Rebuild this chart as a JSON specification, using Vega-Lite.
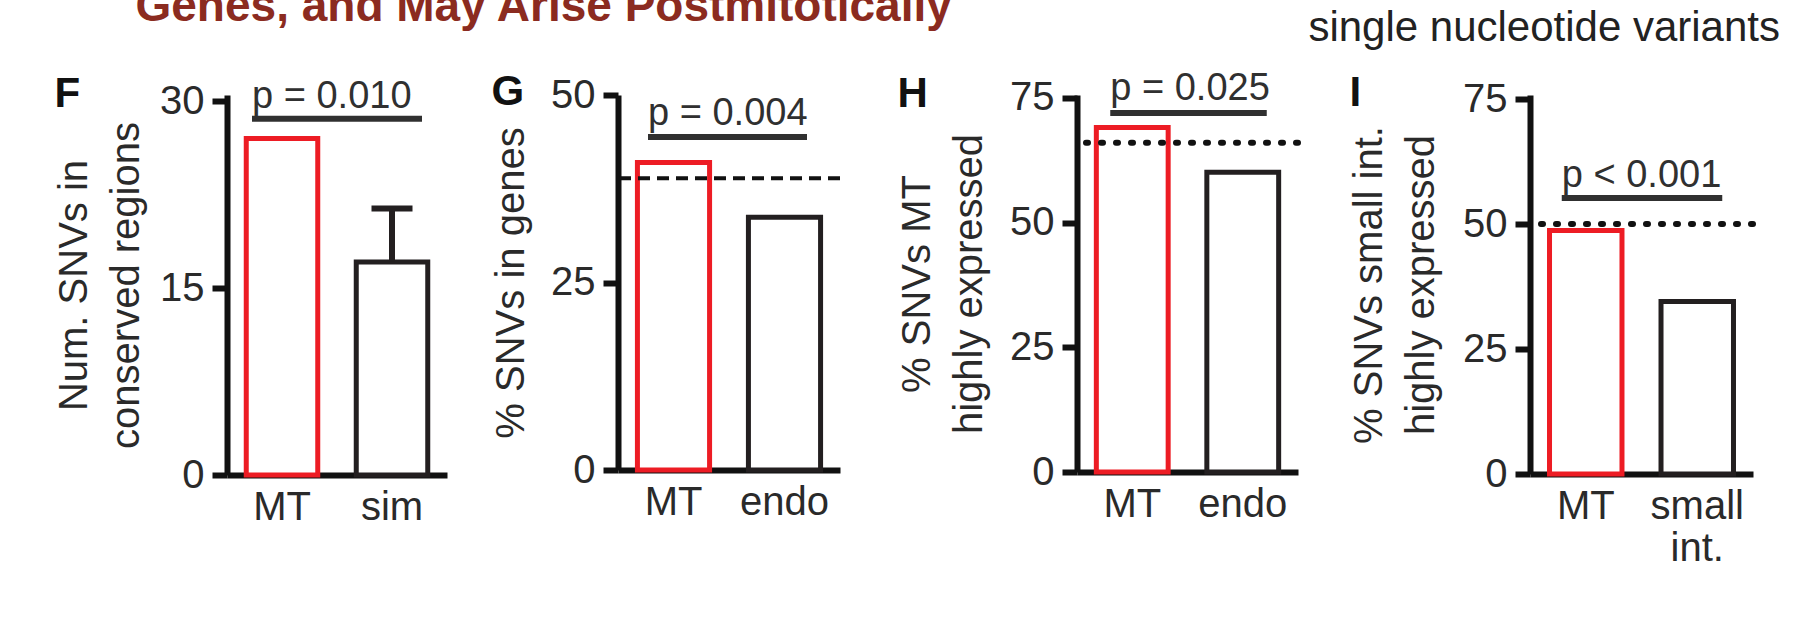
{
  "$schema": "https://vega.github.io/schema/vega-lite/v6.json",
  "autosize": {"type": "none"},
  "padding": {"left": 227, "top": 95, "right": 1576, "bottom": 527},
  "background": "white",
  "title": {"text": "Genes, and May Arise Postmitotically", "color": "#8B2B20", "fontSize": 46, "fontWeight": "bold", "anchor": "start", "dx": 81, "dy": 28},
  "config": {
    "font": "Liberation Sans",
    "view": {"stroke": null},
    "axis": {"grid": false, "domainColor": "#111111", "domainWidth": 6, "tickColor": "#111111", "tickWidth": 6, "labelFontSize": 40, "labelColor": "#2a2a2a", "titleFontSize": 40, "titleFontWeight": "normal", "titleColor": "#2a2a2a", "zindex": 1, "labelFont": "Liberation Sans", "titleFont": "Liberation Sans"},
    "axisX": {"ticks": false, "tickSize": 0, "labelAngle": 0, "labelPadding": 12, "labelLineHeight": 42},
    "axisY": {"tickSize": 15, "labelPadding": 8, "titleLineHeight": 52, "labelFlush": false, "labelOverlap": false},
    "title": {"font": "Liberation Sans", "fontSize": 42, "fontWeight": "bold", "color": "#111111", "anchor": "start", "frame": "bounds", "offset": 0, "baseline": "alphabetic"}
  },
  "datasets": {
    "barsF": [{"group": "MT", "kind": "MT", "value": 27}, {"group": "sim", "kind": "ctrl", "value": 17.1}],
    "errF": [{"group": "sim", "low": 17.1, "high": 21.4}],
    "pF": [{"a": "MT", "b": "sim", "y": 28.6, "label": "p = 0.010"}],
    "barsG": [{"group": "MT", "kind": "MT", "value": 41.0}, {"group": "endo", "kind": "ctrl", "value": 33.7}],
    "refG": [{"y": 38.9}],
    "pG": [{"a": "MT", "b": "endo", "y": 44.4, "label": "p = 0.004"}],
    "barsH": [{"group": "MT", "kind": "MT", "value": 69.1}, {"group": "endo", "kind": "ctrl", "value": 60.1}],
    "refH": [{"y": 66.0}],
    "pH": [{"a": "MT", "b": "endo", "y": 72.0, "label": "p = 0.025"}],
    "barsI": [{"group": "MT", "kind": "MT", "value": 48.7}, {"group": "small int.", "kind": "ctrl", "value": 34.5}],
    "refI": [{"y": 50.0}],
    "pI": [{"a": "MT", "b": "small int.", "y": 55.2, "label": "p < 0.001"}]
  },
  "bounds": "flush",
  "spacing": 171,
  "hconcat": [
    {
      "width": 220, "height": 380,
      "title": {"text": "F", "dy": 42},
      "layer": [
        {"data": {"name": "barsF"}, "mark": {"type": "bar", "fill": "white", "strokeWidth": 5},
         "encoding": {
           "x": {"field": "group", "type": "nominal", "scale": {"domain": ["MT", "sim"], "paddingInner": 0.35, "paddingOuter": 0.175}, "axis": {"title": null}},
           "y": {"field": "value", "type": "quantitative", "scale": {"domain": [0, 30.5], "nice": false}, "axis": {"values": [0, 15, 30], "title": ["Num. SNVs in", "conserved regions"], "titlePadding": 13}},
           "stroke": {"field": "kind", "type": "nominal", "scale": {"domain": ["MT", "ctrl"], "range": ["#ED1C24", "#231F20"]}, "legend": null}}},
        {"data": {"name": "errF"}, "mark": {"type": "rule", "strokeWidth": 6, "color": "#231F20"},
         "encoding": {"x": {"field": "group", "type": "nominal"}, "y": {"field": "low", "type": "quantitative"}, "y2": {"field": "high"}}},
        {"data": {"name": "errF"}, "mark": {"type": "tick", "thickness": 6, "size": 41, "color": "#231F20", "opacity": 1},
         "encoding": {"x": {"field": "group", "type": "nominal"}, "y": {"field": "high", "type": "quantitative"}}},
        {"data": {"name": "pF"}, "mark": {"type": "rule", "strokeWidth": 6, "color": "#303030", "xOffset": -30, "x2Offset": 30},
         "encoding": {"x": {"field": "a", "type": "nominal"}, "x2": {"field": "b"}, "y": {"field": "y", "type": "quantitative"}}},
        {"data": {"name": "pF"}, "mark": {"type": "text", "align": "left", "baseline": "alphabetic", "dy": -11, "xOffset": -30, "fontSize": 38, "color": "#303030"},
         "encoding": {"x": {"field": "a", "type": "nominal"}, "y": {"field": "y", "type": "quantitative"}, "text": {"field": "label"}}}
      ]
    },
    {
      "bounds": "flush",
      "spacing": 237,
      "hconcat": [
        {
          "width": 222, "height": 375,
          "title": {"text": "G", "dy": 43},
          "layer": [
            {"data": {"name": "barsG"}, "mark": {"type": "bar", "fill": "white", "strokeWidth": 5},
             "encoding": {
               "x": {"field": "group", "type": "nominal", "scale": {"domain": ["MT", "endo"], "paddingInner": 0.35, "paddingOuter": 0.175}, "axis": {"title": null}},
               "y": {"field": "value", "type": "quantitative", "scale": {"domain": [0, 50], "nice": false}, "axis": {"values": [0, 25, 50], "title": "% SNVs in genes", "titlePadding": 19}},
               "stroke": {"field": "kind", "type": "nominal", "scale": {"domain": ["MT", "ctrl"], "range": ["#ED1C24", "#231F20"]}, "legend": null}}},
            {"data": {"name": "refG"}, "mark": {"type": "rule", "strokeWidth": 4, "strokeDash": [12, 7], "color": "#111111"},
             "encoding": {"y": {"field": "y", "type": "quantitative"}}},
            {"data": {"name": "pG"}, "mark": {"type": "rule", "strokeWidth": 6, "color": "#303030", "xOffset": -25.5, "x2Offset": 22.5},
             "encoding": {"x": {"field": "a", "type": "nominal"}, "x2": {"field": "b"}, "y": {"field": "y", "type": "quantitative"}}},
            {"data": {"name": "pG"}, "mark": {"type": "text", "align": "left", "baseline": "alphabetic", "dy": -12, "xOffset": -25.5, "fontSize": 38, "color": "#303030"},
             "encoding": {"x": {"field": "a", "type": "nominal"}, "y": {"field": "y", "type": "quantitative"}, "text": {"field": "label"}}}
          ]
        },
        {
          "bounds": "flush",
          "spacing": 232,
          "title": {"text": "single nucleotide variants", "anchor": "end", "fontSize": 42, "fontWeight": "normal", "color": "#222222", "dx": 24, "dy": -16},
          "hconcat": [
            {
              "width": 221, "height": 377,
              "title": {"text": "H", "dy": 50},
              "layer": [
                {"data": {"name": "barsH"}, "mark": {"type": "bar", "fill": "white", "strokeWidth": 5},
                 "encoding": {
                   "x": {"field": "group", "type": "nominal", "scale": {"domain": ["MT", "endo"], "paddingInner": 0.35, "paddingOuter": 0.175}, "axis": {"title": null}},
                   "y": {"field": "value", "type": "quantitative", "scale": {"domain": [0, 75.6], "nice": false}, "axis": {"values": [0, 25, 50, 75], "title": ["% SNVs MT", "highly expressed"], "titlePadding": 20}},
                   "stroke": {"field": "kind", "type": "nominal", "scale": {"domain": ["MT", "ctrl"], "range": ["#ED1C24", "#231F20"]}, "legend": null}}},
                {"data": {"name": "refH"}, "mark": {"type": "rule", "strokeWidth": 6, "strokeDash": [2, 13], "strokeCap": "round", "color": "#111111"},
                 "encoding": {"y": {"field": "y", "type": "quantitative"}}},
                {"data": {"name": "pH"}, "mark": {"type": "rule", "strokeWidth": 6, "color": "#303030", "xOffset": -22, "x2Offset": 24},
                 "encoding": {"x": {"field": "a", "type": "nominal"}, "x2": {"field": "b"}, "y": {"field": "y", "type": "quantitative"}}},
                {"data": {"name": "pH"}, "mark": {"type": "text", "align": "left", "baseline": "alphabetic", "dy": -13, "xOffset": -22, "fontSize": 38, "color": "#303030"},
                 "encoding": {"x": {"field": "a", "type": "nominal"}, "y": {"field": "y", "type": "quantitative"}, "text": {"field": "label"}}}
              ]
            },
            {
              "width": 223, "height": 379,
              "title": {"text": "I", "dy": 40},
              "layer": [
                {"data": {"name": "barsI"}, "mark": {"type": "bar", "fill": "white", "strokeWidth": 5},
                 "encoding": {
                   "x": {"field": "group", "type": "nominal", "scale": {"domain": ["MT", "small int."], "paddingInner": 0.35, "paddingOuter": 0.175}, "axis": {"title": null, "labelExpr": "datum.value == 'small int.' ? ['small', 'int.'] : datum.value"}},
                   "y": {"field": "value", "type": "quantitative", "scale": {"domain": [0, 75.8], "nice": false}, "axis": {"values": [0, 25, 50, 75], "title": ["% SNVs small int.", "highly expressed"], "titlePadding": 21}},
                   "stroke": {"field": "kind", "type": "nominal", "scale": {"domain": ["MT", "ctrl"], "range": ["#ED1C24", "#231F20"]}, "legend": null}}},
                {"data": {"name": "refI"}, "mark": {"type": "rule", "strokeWidth": 6, "strokeDash": [2, 13], "strokeCap": "round", "color": "#111111"},
                 "encoding": {"y": {"field": "y", "type": "quantitative"}}},
                {"data": {"name": "pI"}, "mark": {"type": "rule", "strokeWidth": 6, "color": "#303030", "xOffset": -24, "x2Offset": 25},
                 "encoding": {"x": {"field": "a", "type": "nominal"}, "x2": {"field": "b"}, "y": {"field": "y", "type": "quantitative"}}},
                {"data": {"name": "pI"}, "mark": {"type": "text", "align": "left", "baseline": "alphabetic", "dy": -11, "xOffset": -24, "fontSize": 38, "color": "#303030"},
                 "encoding": {"x": {"field": "a", "type": "nominal"}, "y": {"field": "y", "type": "quantitative"}, "text": {"field": "label"}}}
              ]
            }
          ]
        }
      ]
    }
  ]
}
